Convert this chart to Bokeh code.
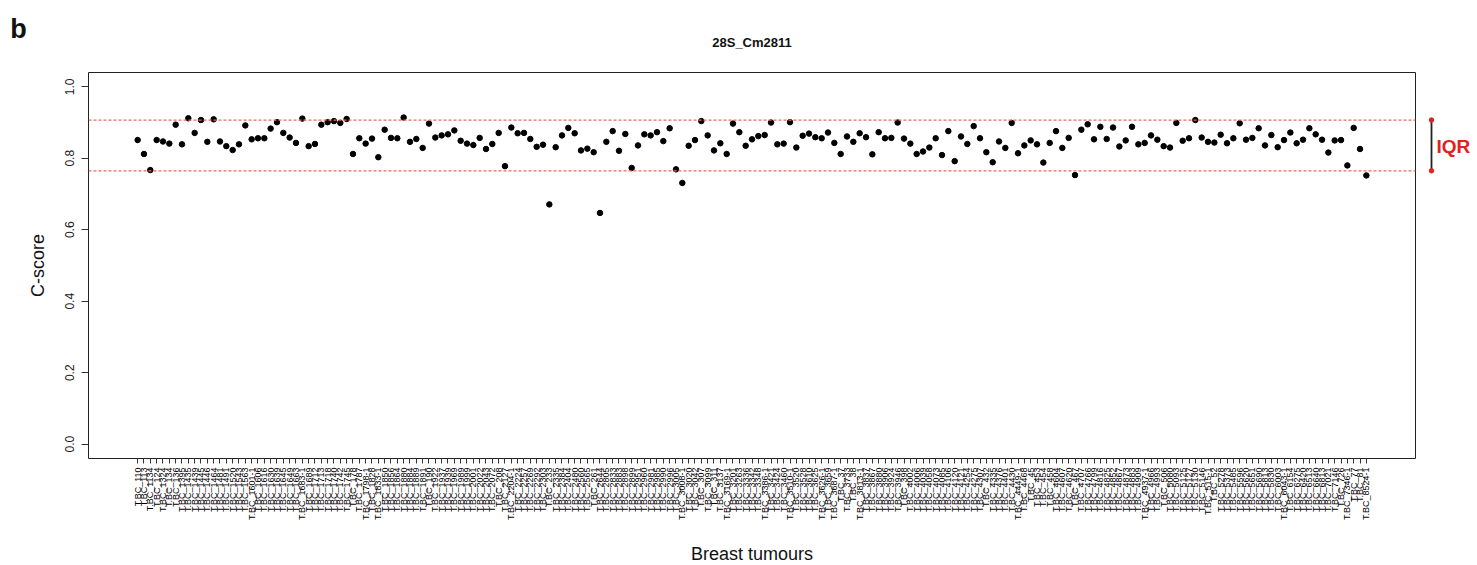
import math
from bokeh.plotting import figure
from bokeh.layouts import row, column
from bokeh.models import FixedTicker, PrintfTickFormatter, Span, Range1d
from bokeh.core.properties import value
from bokeh.embed import file_html
from bokeh.resources import INLINE

# ---------------- data ----------------
samples = """
T.BC_110 T.BC_113 T.BC_1134 T.BC_124 T.BC_1324 T.BC_134 T.BC_136 T.BC_1395 T.BC_1435 T.BC_1439
T.BC_1445 T.BC_1446 T.BC_1464 T.BC_1481 T.BC_1491 T.BC_1520 T.BC_1543 T.BC_1563 T.BC_1601-1 T.BC_1606
T.BC_1616 T.BC_1630 T.BC_1639 T.BC_1645 T.BC_1649 T.BC_1663 T.BC_1683-1 T.BC_1689 T.BC_1712 T.BC_1713
T.BC_1718 T.BC_1740 T.BC_1742 T.BC_1745 T.BC_178 T.BC_1787 T.BC_1798-1 T.BC_1828 T.BC_1833-1 T.BC_1850
T.BC_1856 T.BC_1864 T.BC_1880 T.BC_1884 T.BC_1889 T.BC_1891 T.BC_190 T.BC_1922 T.BC_1937 T.BC_1939
T.BC_1969 T.BC_1989 T.BC_1999 T.BC_2001 T.BC_2022 T.BC_2043 T.BC_2072 T.BC_208 T.BC_2127 T.BC_2204-1
T.BC_2224 T.BC_2257 T.BC_2269 T.BC_2292 T.BC_2303 T.BC_233 T.BC_2335 T.BC_2384 T.BC_2404 T.BC_2480
T.BC_2560 T.BC_2565 T.BC_261 T.BC_2644 T.BC_2805 T.BC_2833 T.BC_2883 T.BC_2898 T.BC_2899 T.BC_2951
T.BC_2960 T.BC_2981 T.BC_2985 T.BC_2990 T.BC_2996 T.BC_3005 T.BC_3008-1 T.BC_3020 T.BC_3042 T.BC_307
T.BC_3099 T.BC_311 T.BC_3137 T.BC_3169-1 T.BC_3201 T.BC_3263 T.BC_3336 T.BC_3342 T.BC_3348 T.BC_3386-1
T.BC_3421 T.BC_3424 T.BC_3460 T.BC_3510-1 T.BC_3520 T.BC_3528 T.BC_3610 T.BC_3625 T.BC_3626-1 T.BC_3659
T.BC_3687-1 T.BC_37 T.BC_3733 T.BC_38 T.BC_3813-1 T.BC_3837 T.BC_3867 T.BC_3880 T.BC_3906 T.BC_3924
T.BC_3946 T.BC_398 T.BC_4002 T.BC_4006 T.BC_4039 T.BC_4058 T.BC_4073 T.BC_4085 T.BC_4106 T.BC_4120
T.BC_4121 T.BC_4254 T.BC_4275 T.BC_4307 T.BC_432 T.BC_4335 T.BC_4376 T.BC_4401 T.BC_4430 T.BC_4449-1
T.BC_4468 T.BC_45 T.BC_453 T.BC_454 T.BC_458 T.BC_4604 T.BC_4607 T.BC_4620 T.BC_467 T.BC_4707
T.BC_4766 T.BC_4799 T.BC_4816 T.BC_4825 T.BC_4852 T.BC_4867 T.BC_4873 T.BC_4883 T.BC_4909 T.BC_4937-1
T.BC_4966 T.BC_4993 T.BC_506 T.BC_5080 T.BC_5093 T.BC_5125 T.BC_5127 T.BC_5130 T.BC_5146 T.BC_515-1
T.BC_52 T.BC_5278 T.BC_5373 T.BC_5485 T.BC_5596 T.BC_5620 T.BC_5651 T.BC_5690 T.BC_5813 T.BC_5830
T.BC_6003 T.BC_6043-1 T.BC_6154 T.BC_6275 T.BC_6420 T.BC_6513 T.BC_6640 T.BC_6813 T.BC_7021 T.BC_7146
T.BC_726 T.BC_7346-1 T.BC_77 T.BC_81 T.BC_8524-1
""".split()

cscore = [
    0.851, 0.812, 0.767, 0.851, 0.847, 0.841, 0.894, 0.839, 0.912, 0.871,
    0.907, 0.846, 0.909, 0.847, 0.834, 0.823, 0.839, 0.892, 0.853, 0.856,
    0.856, 0.883, 0.901, 0.871, 0.858, 0.843, 0.911, 0.834, 0.840, 0.894,
    0.901, 0.904, 0.899, 0.910, 0.812, 0.856, 0.841, 0.855, 0.803, 0.880,
    0.857, 0.856, 0.914, 0.846, 0.854, 0.829, 0.897, 0.858, 0.864, 0.867,
    0.878, 0.849, 0.841, 0.837, 0.857, 0.826, 0.840, 0.871, 0.778, 0.886,
    0.870, 0.871, 0.854, 0.832, 0.838, 0.671, 0.831, 0.864, 0.885, 0.870,
    0.822, 0.827, 0.817, 0.647, 0.846, 0.876, 0.821, 0.868, 0.773, 0.836,
    0.867, 0.864, 0.873, 0.848, 0.884, 0.769, 0.731, 0.835, 0.851, 0.904,
    0.864, 0.822, 0.842, 0.812, 0.897, 0.873, 0.835, 0.853, 0.862, 0.865,
    0.900, 0.839, 0.841, 0.901, 0.830, 0.863, 0.869, 0.859, 0.856, 0.872,
    0.843, 0.812, 0.861, 0.846, 0.870, 0.859, 0.811, 0.873, 0.856, 0.857,
    0.900, 0.855, 0.841, 0.812, 0.819, 0.830, 0.856, 0.809, 0.876, 0.792,
    0.861, 0.840, 0.890, 0.856, 0.817, 0.789, 0.847, 0.829, 0.899, 0.814,
    0.836, 0.850, 0.839, 0.788, 0.843, 0.876, 0.829, 0.857, 0.753, 0.880,
    0.895, 0.853, 0.888, 0.854, 0.886, 0.833, 0.850, 0.888, 0.839, 0.843,
    0.864, 0.852, 0.834, 0.830, 0.899, 0.849, 0.856, 0.907, 0.858, 0.846,
    0.844, 0.866, 0.842, 0.856, 0.898, 0.852, 0.857, 0.884, 0.836, 0.865,
    0.831, 0.851, 0.872, 0.842, 0.852, 0.884, 0.867, 0.852, 0.816, 0.850,
    0.851, 0.780, 0.885, 0.826, 0.752,
]

iqr_low = 0.765
iqr_high = 0.907
y_ticks = [0.0, 0.2, 0.4, 0.6, 0.8, 1.0]
title_text = "28S_Cm2811"
panel_letter = "b"
x_title = "Breast tumours"
y_title = "C-score"
iqr_text = "IQR"

# ---------------- layout ----------------
FONT = "Liberation Sans"
LEFT, FRAME_W, RIGHT, SIDE_W = 88, 1327, 2, 60
TOP, FRAME_H, AXIS_B, TOTAL_H = 72, 386, 70, 565
TOTAL_W = LEFT + FRAME_W + RIGHT + SIDE_W
BOT_H = TOTAL_H - TOP - FRAME_H - AXIS_B

n = len(samples)
xs = list(range(1, n + 1))
pad = 0.04 * (n - 1)
x_range = Range1d(1 - pad, n + pad)
y_range = Range1d(-0.04, 1.04)


def strip(height):
    f = figure(width=TOTAL_W, height=height, x_range=Range1d(0, TOTAL_W),
               y_range=Range1d(0, height), output_backend="svg",
               toolbar_location=None, x_axis_type=None, y_axis_type=None,
               min_border_left=0, min_border_right=0,
               min_border_top=0, min_border_bottom=0)
    f.outline_line_color = None
    return f


# --- top strip: panel letter and title ---
top = strip(TOP)
top.text(x=[18], y=[TOP - 28], text=[panel_letter], text_font=value(FONT),
         text_font_style="bold", text_font_size="27px", text_color="#111111",
         text_align="center", text_baseline="middle")
top.text(x=[LEFT + FRAME_W / 2], y=[TOP - 42], text=[title_text], text_font=value(FONT),
         text_font_style="bold", text_font_size="13px", text_color="#111111",
         text_align="center", text_baseline="middle")

# --- main plot ---
p = figure(width=LEFT + FRAME_W + RIGHT, height=FRAME_H + AXIS_B,
           x_range=x_range, y_range=y_range,
           output_backend="svg", toolbar_location=None,
           min_border_left=LEFT, min_border_right=RIGHT,
           min_border_top=0, min_border_bottom=AXIS_B)
p.outline_line_color = "#222222"
p.outline_line_width = 1
p.grid.visible = False

for lvl in (iqr_high, iqr_low):
    p.add_layout(Span(location=lvl, dimension="width", line_color="#ee6a5c",
                      line_dash="3 2", line_width=1.2))

p.scatter(xs, cscore, size=5.5, color="black")

# x axis
p.xaxis.ticker = FixedTicker(ticks=xs)
p.xaxis.major_label_overrides = {x: s for x, s in zip(xs, samples)}
p.xaxis.major_label_orientation = math.pi / 2
p.xaxis.major_label_text_font = FONT
p.xaxis.major_label_text_font_size = "9px"
p.xaxis.major_label_text_color = "#000000"
p.xaxis.major_label_standoff = 4
p.xaxis.major_tick_out = 5
p.xaxis.major_tick_in = 0
p.xaxis.minor_tick_line_color = None
p.xaxis.axis_line_color = None
p.xaxis.major_tick_line_color = "#333333"

# y axis
p.yaxis.ticker = FixedTicker(ticks=y_ticks)
p.yaxis.formatter = PrintfTickFormatter(format="%.1f")
p.yaxis.major_label_orientation = "vertical"
p.yaxis.major_label_text_font = FONT
p.yaxis.major_label_text_font_size = "12px"
p.yaxis.major_label_text_color = "#222222"
p.yaxis.major_label_standoff = 7
p.yaxis.major_tick_out = 7
p.yaxis.major_tick_in = 0
p.yaxis.minor_tick_line_color = None
p.yaxis.axis_line_color = None
p.yaxis.major_tick_line_color = "#333333"
p.yaxis.axis_label = y_title
p.yaxis.axis_label_text_font = FONT
p.yaxis.axis_label_text_font_style = "normal"
p.yaxis.axis_label_text_font_size = "18px"
p.yaxis.axis_label_text_color = "#111111"
p.yaxis.axis_label_standoff = 15

# --- side panel with IQR marker ---
side = figure(width=SIDE_W, height=FRAME_H + AXIS_B,
              x_range=Range1d(0, SIDE_W), y_range=y_range,
              output_backend="svg", toolbar_location=None,
              x_axis_type=None, y_axis_type=None,
              min_border_left=0, min_border_right=0,
              min_border_top=0, min_border_bottom=AXIS_B)
side.outline_line_color = None
side.segment(x0=[14], y0=[iqr_low], x1=[14], y1=[iqr_high],
             line_color="#222222", line_width=1.8)
side.scatter([14, 14], [iqr_low, iqr_high], size=4.5, color="#e3211c")
side.text(x=[19], y=[(iqr_low + iqr_high) / 2 - 0.004], text=[iqr_text],
          text_font=value(FONT), text_font_style="bold", text_font_size="19px",
          text_color="#e3211c", text_baseline="middle", text_align="left")

# --- bottom strip: x axis title ---
bottom = strip(BOT_H)
bottom.text(x=[LEFT + FRAME_W / 2], y=[12], text=[x_title], text_font=value(FONT),
            text_font_size="18px", text_color="#111111",
            text_align="center", text_baseline="middle")

layout = column(top, row(p, side), bottom)
open("out.html", "w").write(file_html(layout, INLINE))
